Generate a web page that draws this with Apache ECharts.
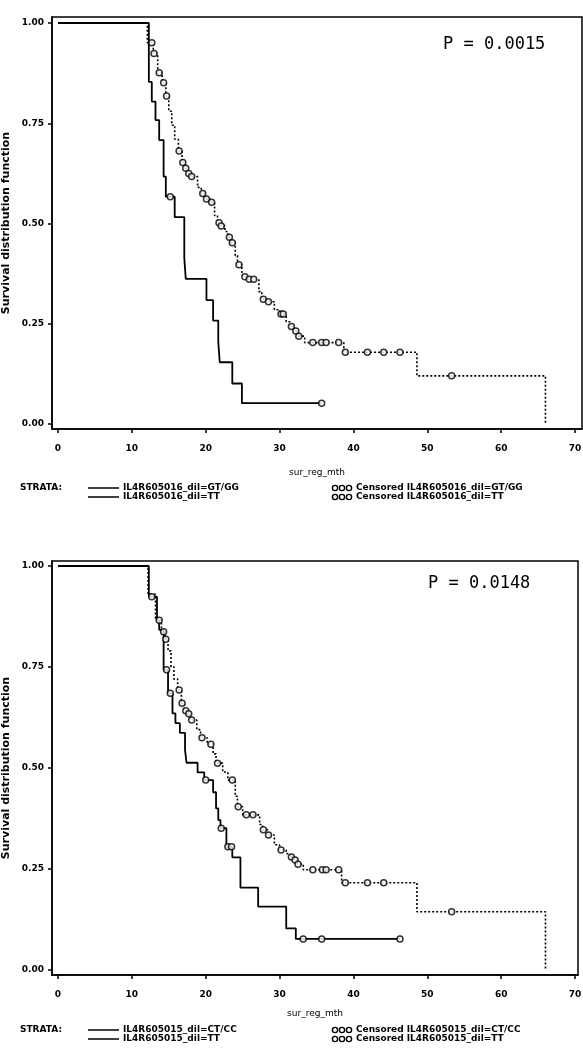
<!DOCTYPE html>
<html><head><meta charset="utf-8">
<script src="https://cdn.jsdelivr.net/npm/echarts@6.0.0/dist/echarts.min.js"></script>
<style>html,body{margin:0;padding:0;background:#fff}#c{width:583px;height:1050px}</style>
</head><body><div id="c"></div>
<script>
// ---------- data ----------
const xTicks = [0, 10, 20, 30, 40, 50, 60, 70];
const yTicks = [0.00, 0.25, 0.50, 0.75, 1.00];
const xTitle = 'sur_reg_mth';
const yTitle = 'Survival distribution function';
const topPValue = 'P = 0.0015';
const botPValue = 'P = 0.0148';
const topStrata = ['IL4R605016_dil=GT/GG', 'IL4R605016_dil=TT'];
const botStrata = ['IL4R605015_dil=CT/CC', 'IL4R605015_dil=TT'];

// top panel: step curves [month, survival]
const topSolid = [[0,1],[12.3,0.853],[12.7,0.804],[13.2,0.758],[13.7,0.708],[14.3,0.617],[14.6,0.567],[15.8,0.516],[17.1,0.414],[17.3,0.362],[20.1,0.309],[21.0,0.258],[21.7,0.205],[21.9,0.154],[23.6,0.101],[24.9,0.052],[35.7,0.052]];
const topSolidCens = [[15.2,0.567],[35.7,0.052]];
const topDotted = [[0,1],[12.1,0.951],[12.9,0.924],[13.5,0.876],[14.1,0.851],[14.6,0.818],[15.0,0.78],[15.4,0.745],[15.8,0.71],[16.3,0.681],[16.8,0.652],[17.2,0.638],[17.6,0.625],[18.0,0.617],[18.9,0.59],[19.4,0.575],[19.9,0.561],[20.6,0.553],[21.2,0.52],[21.6,0.502],[21.9,0.494],[22.6,0.48],[23.0,0.466],[23.4,0.452],[24.0,0.42],[24.3,0.397],[24.9,0.375],[25.1,0.367],[25.7,0.361],[27.2,0.33],[27.6,0.311],[28.3,0.305],[29.3,0.285],[30.0,0.274],[30.9,0.255],[31.4,0.243],[32.0,0.232],[32.4,0.219],[33.4,0.203],[38.7,0.179],[48.6,0.120],[66.0,0.0]];
const topDottedCens = [[12.7,0.951],[13.0,0.924],[13.7,0.876],[14.3,0.851],[14.7,0.818],[16.4,0.681],[16.9,0.652],[17.3,0.638],[17.7,0.625],[18.1,0.617],[19.6,0.575],[20.1,0.561],[20.8,0.553],[21.8,0.502],[22.1,0.494],[23.2,0.466],[23.6,0.452],[24.5,0.397],[25.3,0.367],[25.9,0.361],[26.5,0.361],[27.8,0.311],[28.5,0.305],[30.2,0.274],[30.5,0.274],[31.6,0.243],[32.2,0.232],[32.6,0.219],[34.5,0.203],[35.7,0.203],[36.3,0.203],[38.0,0.203],[38.9,0.179],[41.9,0.179],[44.1,0.179],[46.3,0.179],[53.3,0.120]];

// bottom panel
const botSolid = [[0,1],[12.3,0.924],[13.4,0.866],[13.7,0.842],[14.3,0.743],[14.9,0.685],[15.5,0.635],[15.9,0.611],[16.5,0.587],[17.2,0.545],[17.4,0.513],[18.9,0.489],[19.8,0.470],[21.0,0.44],[21.4,0.40],[21.7,0.371],[22.0,0.351],[22.8,0.305],[23.6,0.279],[24.7,0.204],[27.1,0.157],[30.9,0.103],[32.2,0.077],[46.3,0.077]];
const botSolidCens = [[12.7,0.924],[14.7,0.743],[15.2,0.685],[20.0,0.470],[22.1,0.351],[23.0,0.305],[23.5,0.305],[33.2,0.077],[35.7,0.077],[46.3,0.077]];
const botDotted = [[0,1],[12.2,0.93],[13.2,0.866],[14.0,0.837],[14.5,0.819],[14.9,0.79],[15.3,0.75],[15.7,0.72],[16.2,0.693],[16.7,0.660],[17.1,0.642],[17.5,0.634],[17.9,0.619],[18.8,0.595],[19.3,0.575],[20.2,0.559],[21.0,0.535],[21.4,0.512],[22.3,0.49],[23.0,0.470],[24.0,0.43],[24.3,0.404],[25.0,0.384],[27.3,0.36],[27.7,0.347],[28.4,0.334],[29.3,0.31],[30.0,0.297],[30.9,0.288],[31.4,0.280],[32.0,0.272],[32.4,0.262],[33.2,0.248],[38.4,0.216],[48.6,0.144],[66.0,0.0]];
const botDottedCens = [[13.7,0.866],[14.3,0.837],[14.6,0.819],[16.4,0.693],[16.8,0.660],[17.3,0.642],[17.7,0.634],[18.1,0.619],[19.5,0.575],[20.7,0.559],[21.6,0.512],[23.6,0.470],[24.4,0.404],[25.5,0.384],[26.4,0.384],[27.8,0.347],[28.5,0.334],[30.2,0.297],[31.6,0.280],[32.1,0.272],[32.5,0.262],[34.5,0.248],[35.8,0.248],[36.3,0.248],[38.0,0.248],[38.9,0.216],[41.9,0.216],[44.1,0.216],[53.3,0.144]];

// ---------- chart ----------
const FONT = 'DejaVu Sans';
const chart = echarts.init(document.getElementById('c'), null, {renderer: 'canvas'});

// axis ranges extend slightly past the tick range (frame padding, as in the original plot)
function xAx(gi, xmin, xmax, gap) {
  return {
    type: 'value', gridIndex: gi, min: xmin, max: xmax,
    axisLine: {show: true, onZero: false, lineStyle: {color: '#000', width: 1.5}},
    axisTick: {show: true, length: 4, customValues: xTicks, lineStyle: {color: '#000', width: 1.5}},
    axisLabel: {color: '#000', fontSize: 9, fontWeight: 'bold', fontFamily: FONT, margin: 15,
      customValues: xTicks, showMinLabel: true, showMaxLabel: true},
    splitLine: {show: false},
    name: xTitle, nameLocation: 'middle', nameGap: gap,
    nameTextStyle: {color: '#000', fontSize: 9, fontFamily: FONT}
  };
}
function yAx(gi, ymin, ymax) {
  return {
    type: 'value', gridIndex: gi, min: ymin, max: ymax,
    axisLine: {show: true, onZero: false, lineStyle: {color: '#000', width: 1.5}},
    axisTick: {show: true, length: 4, customValues: yTicks, lineStyle: {color: '#000', width: 1.5}},
    axisLabel: {color: '#000', fontSize: 9, fontWeight: 'bold', fontFamily: FONT, margin: 8,
      customValues: yTicks, formatter: v => v.toFixed(2)},
    splitLine: {show: false},
    name: yTitle, nameLocation: 'middle', nameGap: 40, nameRotate: 90, nameMoveOverlap: false,
    nameTextStyle: {color: '#000', fontSize: 11, fontWeight: 'bold', fontFamily: FONT}
  };
}

function stepLine(data, xi, dotted) {
  return {
    type: 'line', xAxisIndex: xi, yAxisIndex: xi, data: data, step: 'end',
    symbol: 'none', silent: true, z: 3,
    lineStyle: {color: '#000', width: dotted ? 1.6 : 1.8, type: dotted ? [2, 2] : 'solid'}
  };
}
function cens(data, xi) {
  return {
    type: 'scatter', xAxisIndex: xi, yAxisIndex: xi, data: data, z: 5, silent: true,
    symbol: 'circle', symbolSize: 6,
    itemStyle: {color: '#fff', borderColor: '#000', borderWidth: 1.5}
  };
}

function legendEls(y1, y2, strata) {
  const ts = {fill: '#000', fontSize: 9, fontFamily: FONT, fontWeight: 'bold', verticalAlign: 'middle'};
  const els = [];
  els.push({type: 'text', x: 20, y: y1, style: Object.assign({text: 'STRATA:'}, ts)});
  [y1, y2].forEach((y, i) => {
    els.push({type: 'line', shape: {x1: 88, y1: y, x2: 119, y2: y}, style: {stroke: '#000', lineWidth: 1.5}});
    els.push({type: 'text', x: 123, y: y, style: Object.assign({text: strata[i]}, ts)});
    [335, 342, 349].forEach(cx => els.push({type: 'circle', shape: {cx: cx, cy: y, r: 2.6},
      style: {fill: '#fff', stroke: '#000', lineWidth: 1.4}}));
    els.push({type: 'text', x: 356, y: y, style: Object.assign({text: 'Censored ' + strata[i]}, ts)});
  });
  return els;
}

const option = {
  animation: false,
  backgroundColor: '#fff',
  grid: [
    {left: 52, top: 17, width: 530, height: 412, show: true, borderColor: '#000', borderWidth: 1.5,
      backgroundColor: 'transparent', containLabel: false, outerBoundsMode: 'none'},
    {left: 52, top: 561, width: 526, height: 414, show: true, borderColor: '#000', borderWidth: 1.5,
      backgroundColor: 'transparent', containLabel: false, outerBoundsMode: 'none'}
  ],
  xAxis: [xAx(0, -0.812, 70.948, 39), xAx(1, -0.812, 70.406, 34)],
  yAxis: [yAx(0, -0.0125, 1.015), yAx(1, -0.0124, 1.0124)],
  series: [
    stepLine(topSolid, 0, false), stepLine(topDotted, 0, true),
    cens(topSolidCens, 0), cens(topDottedCens, 0),
    stepLine(botSolid, 1, false), stepLine(botDotted, 1, true),
    cens(botSolidCens, 1), cens(botDottedCens, 1)
  ],
  graphic: [
    {type: 'text', x: 443, y: 45, style: {text: topPValue, fill: '#000', fontSize: 17, fontFamily: 'DejaVu Sans Mono', verticalAlign: 'middle'}},
    {type: 'text', x: 428, y: 584, style: {text: botPValue, fill: '#000', fontSize: 17, fontFamily: 'DejaVu Sans Mono', verticalAlign: 'middle'}}
  ].concat(legendEls(488, 497, topStrata)).concat(legendEls(1030, 1039, botStrata))
};
chart.setOption(option);
</script>
</body></html>
